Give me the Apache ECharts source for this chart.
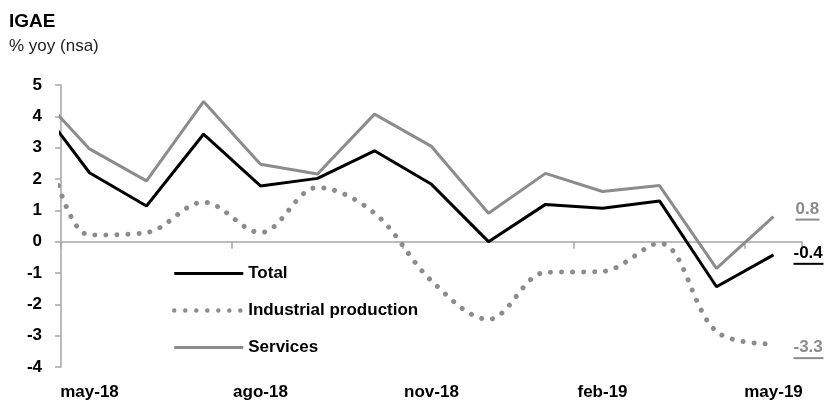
<!DOCTYPE html>
<html>
<head>
<meta charset="utf-8">
<script src="https://cdn.jsdelivr.net/npm/echarts@6/dist/echarts.min.js"></script>
<style>
  html, body { margin: 0; padding: 0; background: #fff; }
  #chart { width: 825px; height: 407px; }
</style>
</head>
<body>
<div id="chart"></div>
<script>
// Month labels on the axis (may-18 .. may-19)
const categories = ['may-18','jun-18','jul-18','ago-18','sep-18','oct-18','nov-18','dic-18','ene-19','feb-19','mar-19','abr-19','may-19'];
// Series values start one month earlier (abr-18), which lies left of the plotted range
const totalValues    = [4.62, 2.20, 1.14, 3.43, 1.78, 2.02, 2.90, 1.83, 0.00, 1.19, 1.07, 1.30, -1.44, -0.42];
const industryValues = [5.20, 0.21, 0.29, 1.26, 0.29, 1.73, 0.91, -1.25, -2.48, -0.98, -0.95, -0.05, -2.87, -3.27];
const servicesValues = [4.92, 2.96, 1.94, 4.47, 2.47, 2.16, 4.07, 3.04, 0.91, 2.18, 1.60, 1.79, -0.85, 0.80];
const yTicks = [-4, -3, -2, -1, 0, 1, 2, 3, 4, 5];

const FONT = '"Liberation Sans", Arial, sans-serif';
const GRAY = '#8c8c8c';
const AXIS = '#a6a6a6';
const DOTS = [0.01, 11];

function toPairs(vals) {
  return vals.map((v, i) => [i - 0.5, v]);
}

function endLabel(color, width, dy, dx) {
  return {
    show: true,
    offset: [dx, dy],
    distance: 0,
    formatter: p => '{t|' + p.value[1].toFixed(1) + '}\n{u|}',
    rich: {
      t: { fontFamily: FONT, fontSize: 17, fontWeight: 'bold', color: color, lineHeight: 18 },
      u: { width: width, height: 2, lineHeight: 3, backgroundColor: color }
    }
  };
}

const chart = echarts.init(document.getElementById('chart'), null, { renderer: 'canvas' });
chart.setOption({
  animation: false,
  backgroundColor: '#fff',
  title: {
    text: 'IGAE',
    subtext: '% yoy (nsa)',
    left: 4,
    top: 7,
    itemGap: 7,
    textStyle: { fontFamily: FONT, fontSize: 19, fontWeight: 'bold', color: '#000' },
    subtextStyle: { fontFamily: FONT, fontSize: 17, color: '#222' }
  },
  legend: {
    orient: 'vertical',
    left: 172,
    top: 265,
    padding: 0,
    itemWidth: 69,
    itemHeight: 14,
    itemGap: 20,
    itemStyle: { opacity: 0 },
    textStyle: { fontFamily: FONT, fontSize: 17, fontWeight: 'bold', color: '#000', lineHeight: 17 },
    data: [
      { name: 'Total', lineStyle: { width: 3, color: '#000' } },
      { name: 'Industrial production', lineStyle: { width: 4.5, color: GRAY, type: DOTS, cap: 'round' } },
      { name: 'Services', lineStyle: { width: 3, color: GRAY } }
    ]
  },
  grid: { left: 61, top: 85, width: 741, height: 282, containLabel: false },
  xAxis: [
    {
      type: 'value',
      min: 0, max: 13, interval: 3,
      axisLine: { show: true, onZero: true, lineStyle: { color: AXIS, width: 1.5 } },
      axisTick: { show: true, inside: false, length: 7, lineStyle: { color: AXIS, width: 1.5 } },
      axisLabel: { show: false },
      splitLine: { show: false }
    },
    {
      type: 'category',
      position: 'bottom',
      data: categories,
      boundaryGap: true,
      axisLine: { show: false, onZero: false },
      axisTick: { show: false },
      axisLabel: { interval: 2, margin: 17, fontFamily: FONT, fontSize: 17, fontWeight: 'bold', color: '#000' },
      splitLine: { show: false }
    }
  ],
  yAxis: {
    type: 'value',
    min: yTicks[0], max: yTicks[yTicks.length - 1], interval: 1,
    axisLine: { show: true, onZero: false, lineStyle: { color: AXIS, width: 1.5 } },
    axisTick: { show: true, inside: false, length: 6, lineStyle: { color: AXIS, width: 1.5 } },
    axisLabel: { margin: 19, fontFamily: FONT, fontSize: 17, fontWeight: 'bold', color: '#000' },
    splitLine: { show: false }
  },
  series: [
    {
      name: 'Services',
      type: 'line',
      xAxisIndex: 0,
      data: toPairs(servicesValues),
      symbol: 'none',
      clip: true,
      lineStyle: { color: GRAY, width: 3 },
      itemStyle: { color: GRAY },
      endLabel: endLabel(GRAY, 24, -6, 22),
      z: 2
    },
    {
      name: 'Industrial production',
      type: 'line',
      xAxisIndex: 0,
      data: toPairs(industryValues),
      symbol: 'none',
      smooth: 0.35,
      clip: true,
      lineStyle: { color: GRAY, width: 5, type: DOTS, cap: 'round' },
      itemStyle: { color: GRAY },
      endLabel: endLabel(GRAY, 30, 5, 20),
      z: 2
    },
    {
      name: 'Total',
      type: 'line',
      xAxisIndex: 0,
      data: toPairs(totalValues),
      symbol: 'none',
      clip: true,
      lineStyle: { color: '#000', width: 3 },
      itemStyle: { color: '#000' },
      endLabel: endLabel('#000', 30, 0, 20),
      z: 3
    }
  ]
});
</script>
</body>
</html>
